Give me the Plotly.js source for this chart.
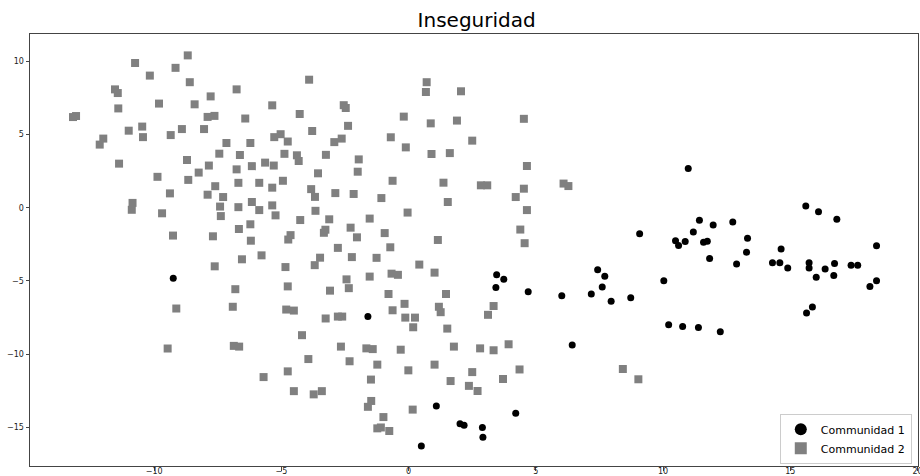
<!DOCTYPE html>
<html>
<head>
<meta charset="utf-8">
<script src="https://cdn.plot.ly/plotly-3.0.1.min.js"></script>
<style>html,body{margin:0;padding:0;background:#fff;}#chart{width:920px;height:476px;}</style>
</head>
<body>
<div id="chart"></div>
<script>
// Community 1 (black circles)
const com1X = [-9.25,-1.60,3.46,3.74,3.43,4.70,6.02,7.43,7.71,7.61,7.18,7.96,8.73,6.43,1.09,4.21,2.02,2.18,2.90,2.92,0.50,9.08,10.03,10.22,10.77,11.39,12.25,10.99,10.49,10.61,10.87,11.19,11.43,11.97,11.59,11.74,12.74,13.32,13.28,11.83,12.89,14.64,14.30,14.59,14.90,15.74,15.74,16.02,16.37,16.74,16.71,17.39,17.65,18.13,18.39,18.39,15.64,15.87,15.61,16.11,16.83];
const com1Y = [-4.82,-7.43,-4.57,-4.89,-5.45,-5.74,-6.00,-4.23,-4.68,-5.41,-5.89,-6.39,-6.14,-9.37,-13.54,-14.03,-14.75,-14.85,-15.00,-15.66,-16.27,-1.77,-4.98,-7.98,-8.10,-8.18,-8.46,2.67,-2.25,-2.57,-2.31,-1.66,-0.86,-1.18,-2.35,-2.28,-0.98,-2.09,-3.04,-3.47,-3.84,-2.82,-3.75,-3.75,-4.12,-3.75,-4.12,-4.75,-4.18,-3.80,-4.63,-3.93,-3.93,-5.37,-4.98,-2.60,-7.19,-6.78,0.12,-0.27,-0.79];

// Community 2 (grey squares)
const com2X = [-13.19,-13.07,-12.14,-12.00,-11.54,-11.43,-11.41,-11.38,-11.00,-10.75,-10.47,-10.44,-10.17,-9.87,-9.81,-9.69,-9.38,-9.35,-9.16,-8.91,-8.71,-8.68,-8.66,-8.60,-8.41,-8.25,-8.04,-7.90,-7.63,-7.90,-7.85,-7.78,-7.60,-7.44,-7.41,-7.38,-7.29,-7.16,-6.76,-6.76,-6.69,-6.69,-6.63,-6.42,-6.22,-6.16,-6.16,-5.87,-5.87,-5.64,-5.36,-5.36,-5.36,-5.30,-5.28,-5.03,-5.23,-4.94,-4.88,-4.75,-4.39,-4.32,-4.28,-4.26,-3.91,-3.83,-3.68,-3.79,-3.66,-3.56,-3.25,-3.12,-10.85,-10.88,-9.26,-7.69,-6.67,-6.22,-6.20,-4.64,-4.73,-3.27,-3.33,-6.55,-5.78,-7.62,-4.84,-3.48,-3.69,-6.81,-4.75,-9.13,-6.91,-4.81,-4.51,-3.26,-4.19,-9.47,-6.87,-6.66,-3.94,-4.75,-5.70,-4.51,-3.73,-3.41,-3.09,
  0.71,0.68,2.06,-2.55,-2.47,-0.19,0.87,1.90,4.53,-2.38,-2.92,-2.63,-0.70,-0.11,2.50,-1.96,0.90,1.62,4.65,-2.00,-0.63,1.37,2.84,3.09,4.53,6.09,6.28,-2.88,-2.16,-1.07,1.54,4.21,4.65,-1.53,-0.04,-2.28,-2.03,-0.94,1.15,4.39,4.56,-2.78,-0.72,-2.23,-1.26,0.42,1.02,-0.67,-0.42,-2.44,-1.53,-2.35,-0.79,1.47,-0.16,-0.63,1.19,1.26,3.34,3.12,-2.78,-2.61,-0.13,0.25,0.18,1.52,-2.66,-1.66,-1.41,-0.31,1.78,2.81,3.34,3.93,-2.32,-1.23,-0.01,1.02,2.50,4.36,-1.48,1.65,2.37,2.71,3.71,-1.47,-1.60,-0.99,0.16,-1.23,-1.09,-0.76,8.42,9.03];
const com2Y = [6.19,6.26,4.31,4.72,8.08,7.83,6.78,3.01,5.26,9.88,5.54,4.82,9.02,2.11,7.11,-0.38,0.98,4.96,9.55,5.37,3.26,10.40,1.90,8.57,7.06,2.40,5.37,6.20,6.27,0.89,2.88,7.60,1.47,3.69,0.08,-0.57,0.73,4.42,8.08,2.62,1.70,0.04,3.60,6.09,4.42,2.84,0.39,1.70,-0.16,3.08,6.99,1.37,0.16,2.88,4.82,5.02,-0.52,1.84,3.68,4.52,3.58,3.19,6.40,-0.84,8.74,1.27,0.74,5.24,-0.21,2.35,3.61,-0.79,0.33,-0.14,-1.90,-1.95,-1.45,-1.13,-2.25,-1.87,-2.17,-1.50,-1.71,-3.52,-3.25,-4.00,-4.05,-3.41,-3.92,-5.56,-5.37,-6.88,-6.76,-6.95,-7.02,-7.56,-8.70,-9.61,-9.43,-9.48,-10.33,-11.17,-11.56,-12.52,-12.74,-12.52,-5.66,
  8.57,7.90,7.95,7.00,6.81,6.22,5.76,5.95,6.07,5.59,4.48,4.72,4.81,4.12,4.58,3.30,3.67,3.73,2.85,2.46,1.84,1.71,1.53,1.53,1.30,1.65,1.48,1.00,0.94,0.66,0.39,0.73,-0.16,-0.74,-0.33,-1.36,-2.02,-1.73,-2.20,-1.49,-2.42,-2.74,-2.70,-3.37,-3.42,-3.88,-4.43,-4.50,-4.58,-4.89,-4.70,-5.49,-5.89,-5.89,-6.56,-7.00,-6.76,-7.13,-6.71,-7.31,-7.43,-7.43,-7.50,-7.50,-8.16,-8.25,-9.48,-9.60,-9.65,-9.69,-9.48,-9.60,-9.73,-9.32,-10.48,-10.71,-11.10,-10.71,-11.22,-11.04,-11.73,-11.83,-12.16,-12.51,-11.69,-13.19,-13.59,-14.29,-13.78,-15.06,-15.00,-15.24,-11.01,-11.71];

const seriesNames = ['Communidad 1', 'Communidad 2'];
const chartTitle = 'Inseguridad';
const xTicks = [-15, -10, -5, 0, 5, 10, 15, 20];
const yTicks = [-15, -10, -5, 0, 5, 10];

const traces = [
  {x: com1X, y: com1Y, name: seriesNames[0], type: 'scatter', mode: 'markers',
   marker: {symbol: 'circle', size: 7, color: '#000000', line: {width: 0}}},
  {x: com2X, y: com2Y, name: seriesNames[1], type: 'scatter', mode: 'markers',
   marker: {symbol: 'square', size: 8, color: '#808080', line: {width: 0}}}
];

const axisCommon = {
  showgrid: false, zeroline: false, showline: true, mirror: true,
  linecolor: '#444', linewidth: 1, ticks: 'outside', ticklen: 3.5, tickwidth: 1,
  tickcolor: '#444', tickfont: {family: 'DejaVu Sans', size: 8, color: '#222'}
};

const layout = {
  width: 920, height: 476,
  margin: {l: 30, r: 2, t: 34, b: 10},
  paper_bgcolor: '#ffffff', plot_bgcolor: '#ffffff',
  title: {text: chartTitle, font: {family: 'DejaVu Sans', size: 20, color: '#000'},
          x: 0.503, xref: 'paper', y: 0.958, yref: 'container', yanchor: 'middle'},
  xaxis: Object.assign({}, axisCommon, {range: [-14.88, 20.02], tickvals: xTicks,
          ticktext: xTicks.map(v => String(v).replace('-', '\u2212')), ticklabelstandoff: -6,
          ticklabeloverflow: 'allow'}),
  yaxis: Object.assign({}, axisCommon, {range: [-17.63, 11.86], tickvals: yTicks,
          ticktext: yTicks.map(v => String(v).replace('-', '\u2212'))}),
  showlegend: true,
  legend: {x: 0.993, xanchor: 'right', y: 0.005, yanchor: 'bottom',
           bgcolor: '#ffffff', bordercolor: '#cccccc', borderwidth: 1,
           font: {family: 'DejaVu Sans', size: 11, color: '#000'}, itemsizing: 'constant',
           tracegroupgap: 0}
};

Plotly.newPlot('chart', traces, layout, {displayModeBar: false, staticPlot: true});
</script>
</body>
</html>
